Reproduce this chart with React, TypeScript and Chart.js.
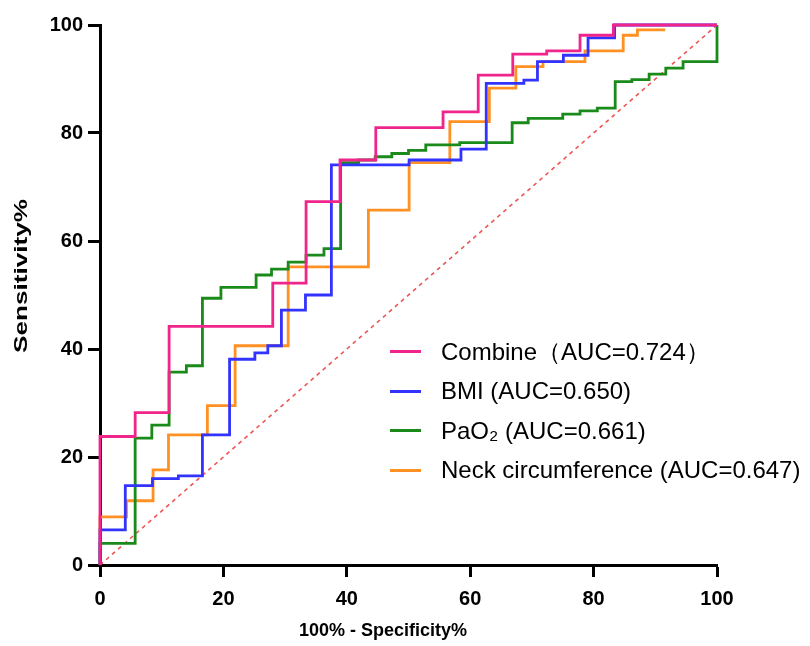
import React, { useEffect, useRef } from "react";
import { Chart, registerables } from "chart.js";

Chart.register(...registerables);

// ROC staircase vertices (100% - Specificity%, Sensitivity%)
const combineX = [0, 0, 5.7, 5.7, 11.2, 11.2, 28.0, 28.0, 33.4, 33.4, 38.9, 38.9, 44.7, 44.7, 55.6, 55.6, 61.3, 61.3, 66.9, 66.9, 72.4, 72.4, 77.8, 77.8, 83.2, 83.2, 100];
const combineY = [0, 23.8, 23.8, 28.2, 28.2, 44.2, 44.2, 52.2, 52.2, 67.3, 67.3, 75.0, 75.0, 81.0, 81.0, 83.9, 83.9, 90.7, 90.7, 94.6, 94.6, 95.2, 95.2, 98.1, 98.1, 100, 100];

const bmiX = [0, 0, 4.1, 4.1, 8.5, 8.5, 12.7, 12.7, 16.6, 16.6, 21.0, 21.0, 25.1, 25.1, 27.2, 27.2, 29.4, 29.4, 33.3, 33.3, 37.5, 37.5, 50.1, 50.1, 58.5, 58.5, 62.6, 62.6, 68.7, 68.7, 70.9, 70.9, 75.1, 75.1, 79.1, 79.1, 83.4, 83.4, 100];
const bmiY = [0, 6.5, 6.5, 14.7, 14.7, 16.0, 16.0, 16.5, 16.5, 24.1, 24.1, 38.1, 38.1, 39.3, 39.3, 40.6, 40.6, 47.2, 47.2, 50.0, 50.0, 74.1, 74.1, 75.0, 75.0, 77.0, 77.0, 89.2, 89.2, 89.8, 89.8, 93.2, 93.2, 94.4, 94.4, 97.6, 97.6, 100, 100];

const paoX = [0, 0, 5.7, 5.7, 8.4, 8.4, 11.2, 11.2, 14.0, 14.0, 16.6, 16.6, 19.6, 19.6, 25.3, 25.3, 27.8, 27.8, 30.5, 30.5, 33.4, 33.4, 36.3, 36.3, 39.0, 39.0, 41.9, 41.9, 44.6, 44.6, 47.3, 47.3, 50.0, 50.0, 52.8, 52.8, 58.3, 58.3, 66.8, 66.8, 69.4, 69.4, 75.0, 75.0, 77.8, 77.8, 80.6, 80.6, 83.5, 83.5, 86.2, 86.2, 89.0, 89.0, 91.7, 91.7, 94.5, 94.5, 100, 100];
const paoY = [0, 4.0, 4.0, 23.5, 23.5, 25.9, 25.9, 35.7, 35.7, 36.9, 36.9, 49.4, 49.4, 51.4, 51.4, 53.7, 53.7, 54.8, 54.8, 56.1, 56.1, 57.4, 57.4, 58.6, 58.6, 74.5, 74.5, 75.0, 75.0, 75.6, 75.6, 76.2, 76.2, 76.8, 76.8, 77.8, 77.8, 78.2, 78.2, 81.9, 81.9, 82.7, 82.7, 83.5, 83.5, 84.1, 84.1, 84.6, 84.6, 89.5, 89.5, 89.9, 89.9, 90.9, 90.9, 92.0, 92.0, 93.2, 93.2, 100];

const neckX = [0, 0, 4.3, 4.3, 8.6, 8.6, 11.1, 11.1, 17.4, 17.4, 21.9, 21.9, 30.5, 30.5, 43.5, 43.5, 50.1, 50.1, 56.7, 56.7, 63.1, 63.1, 67.4, 67.4, 71.8, 71.8, 78.6, 78.6, 84.8, 84.8, 87.1, 87.1, 91.6];
const neckY = [0, 8.9, 8.9, 11.9, 11.9, 17.6, 17.6, 24.1, 24.1, 29.5, 29.5, 40.6, 40.6, 55.2, 55.2, 65.7, 65.7, 74.5, 74.5, 82.1, 82.1, 88.3, 88.3, 92.3, 92.3, 93.2, 93.2, 95.2, 95.2, 98.1, 98.1, 99.1, 99.1];

const refX = [0, 100];
const refY = [0, 100];

const tickValues = [0, 20, 40, 60, 80, 100];
const xTitle = "100% - Specificity%";
const yTitle = "Sensitivity%";

const seriesNames = ["Combine", "BMI", "PaO2", "Neck circumference"];
const legendLabels = ["Combine（AUC=0.724）", "BMI (AUC=0.650)", "PaO₂ (AUC=0.661)", "Neck circumference (AUC=0.647)"];
const seriesColors = ["#f0258c", "#3333ff", "#1a8a1a", "#ff9124"];

const toPoints = (xs: number[], ys: number[]) => xs.map((x, i) => ({ x, y: ys[i] }));

const titlePlugin = {
  id: "axisTitles",
  afterDraw(chart: any) {
    const { ctx, chartArea } = chart;
    ctx.save();
    ctx.fillStyle = "#000";
    ctx.font = "bold 18px 'Liberation Sans', Arial, sans-serif";
    ctx.textAlign = "center";
    ctx.textBaseline = "middle";
    ctx.fillText(xTitle, chartArea.left + 283, chartArea.bottom + 66);
    ctx.translate(22, chartArea.top + 251);
    ctx.rotate(-Math.PI / 2);
    ctx.scale(1.45, 1);
    ctx.fillText(yTitle, 0, 0);
    ctx.restore();
  },
};

export default function App() {
  const ref = useRef<HTMLCanvasElement | null>(null);

  useEffect(() => {
    if (!ref.current) return;
    const series = [
      toPoints(combineX, combineY),
      toPoints(bmiX, bmiY),
      toPoints(paoX, paoY),
      toPoints(neckX, neckY),
    ];
    const datasets: any[] = series.map((pts, i) => ({
      label: seriesNames[i],
      data: pts,
      borderColor: seriesColors[i],
      backgroundColor: seriesColors[i],
      borderWidth: 2.8,
      pointRadius: 0,
      tension: 0,
      fill: false,
      clip: false,
      borderJoinStyle: "miter",
      borderCapStyle: "butt",
    }));
    datasets.push({
      label: "Reference",
      data: toPoints(refX, refY),
      borderColor: "#ee5555",
      borderWidth: 1.6,
      borderDash: [4, 4],
      pointRadius: 0,
      fill: false,
      clip: false,
    });

    const axisCommon = {
      type: "linear" as const,
      min: 0,
      max: 100,
      grid: {
        drawOnChartArea: false,
        drawTicks: true,
        tickLength: 12,
        tickWidth: 3,
        tickColor: "#000",
      },
      border: { display: true, color: "#000", width: 3 },
    };

    const chart = new Chart(ref.current, {
      type: "line",
      data: { datasets },
      plugins: [titlePlugin],
      options: {
        animation: false,
        responsive: false,
        maintainAspectRatio: false,
        layout: { padding: { left: 0, top: 25, right: 93, bottom: 0 } },
        plugins: { legend: { display: false }, tooltip: { enabled: false } },
        scales: {
          x: {
            ...axisCommon,
            position: "bottom",
            afterFit: (s: any) => { s.height = 81; },
            afterBuildTicks: (s: any) => { s.ticks = tickValues.map((v) => ({ value: v })); },
            ticks: {
              color: "#000",
              padding: 10,
              maxRotation: 0,
              font: { family: "'Liberation Sans', Arial, sans-serif", size: 20, weight: "bold" },
            },
          },
          y: {
            ...axisCommon,
            position: "left",
            afterFit: (s: any) => { s.width = 100; },
            afterBuildTicks: (s: any) => { s.ticks = tickValues.map((v) => ({ value: v })); },
            ticks: {
              color: "#000",
              padding: 5,
              font: { family: "'Liberation Sans', Arial, sans-serif", size: 20, weight: "bold" },
            },
          },
        },
      } as any,
    });
    return () => chart.destroy();
  }, []);

  return (
    <div style={{ position: "absolute", left: 0, top: 0, width: 810, height: 646, background: "#fff" }}>
      <canvas ref={ref} width={810} height={646} style={{ display: "block" }} />
      <div style={{ position: "absolute", left: 390, top: 332, fontFamily: "'Liberation Sans', Arial, sans-serif", fontSize: 24, color: "#000" }}>
        {legendLabels.map((lab, i) => (
          <div key={lab} style={{ display: "flex", alignItems: "center", height: 39.5, whiteSpace: "nowrap" }}>
            <span style={{ display: "inline-block", width: 31, height: 3, background: seriesColors[i], marginRight: 20 }} />
            <span>{lab}</span>
          </div>
        ))}
      </div>
    </div>
  );
}
